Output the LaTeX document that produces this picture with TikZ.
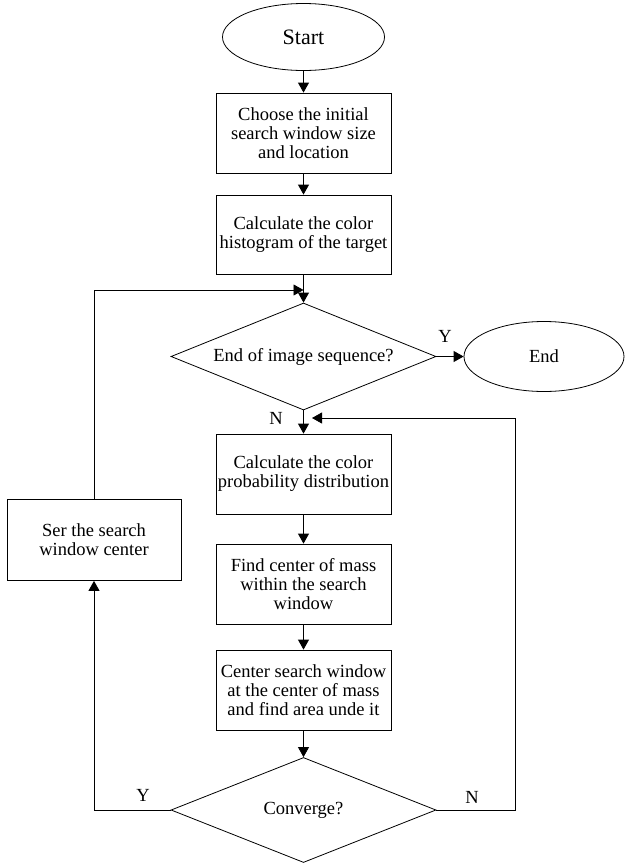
\documentclass[tikz,border=0pt]{standalone}
\usepackage{fontspec}
\setmainfont{Liberation Serif}
\usetikzlibrary{arrows.meta,shapes.geometric}

\begin{document}
\begin{tikzpicture}[x=1pt,y=-1pt,
    txt/.style={font=\fontsize{18.5}{19}\selectfont},
    proc/.style={draw,thick,rectangle,txt,align=center,minimum width=175pt,minimum height=80pt,inner sep=1pt},
    decide/.style={draw,thick,diamond,txt,aspect=2.5,minimum width=265pt,minimum height=106pt,inner sep=0pt},
    term/.style={draw,thick,ellipse,txt,minimum width=162pt,minimum height=67pt,inner sep=0pt},
    flow/.style={thick,-{Triangle[length=10pt,width=11pt]}}]
            \useasboundingbox (0,0) rectangle (625,865);

            \node[term,font=\fontsize{22}{24}\selectfont] (start) at (303.5,37) {Start};
            \node[proc] (choose) at (303.5,133) {Choose the initial\\search window size\\and location};
            \node[proc,minimum height=79pt] (hist) at (303.5,234.5) {Calculate the color\\histogram of the target};
            \node[decide,minimum height=107pt] (endseq) at (303.5,356.5) {End of image sequence?};
            \node[term,minimum width=160pt,minimum height=70pt] (stop) at (544,356.5) {End};
            \node[proc] (prob) at (303.5,474) {Calculate the color\\probability distribution};
            \node[proc] (mass) at (303.5,584) {Find center of mass\\within the search\\window};
            \node[proc] (recenter) at (303.5,690) {Center search window\\at the center of mass\\and find area unde it};
            \node[decide,minimum height=105pt] (conv) at (303.5,810) {Converge?};
            \node[proc,minimum width=174pt,minimum height=81pt] (ser) at (94,540) {Ser the search\\window center};

            \coordinate (merge) at (303.5,290);
            \coordinate (back) at (312,418);
            \coordinate (rturn) at (515,810);

            \draw[flow] (start) -- (choose);
            \draw[flow] (choose) -- (hist);
            \draw[flow] (hist) -- (endseq);
            \draw[flow] (ser.north) |- (merge);
            \draw[flow] (endseq.east) -- (stop.west);
            \draw[flow] (endseq.south) -- (prob.north);
            \draw[flow] (prob) -- (mass);
            \draw[flow] (mass) -- (recenter);
            \draw[flow] (recenter) -- (conv);
            \draw[flow] (conv.west) -| (ser.south);
            \draw[flow] (conv.east) -- (rturn) |- (back);

            \node[txt] (yes1) at (445,336) {Y};
            \node[txt] (no1) at (276,418) {N};
            \node[txt] (yes2) at (143,795) {Y};
            \node[txt] (no2) at (472,797) {N};
        \end{tikzpicture}
\end{document}
